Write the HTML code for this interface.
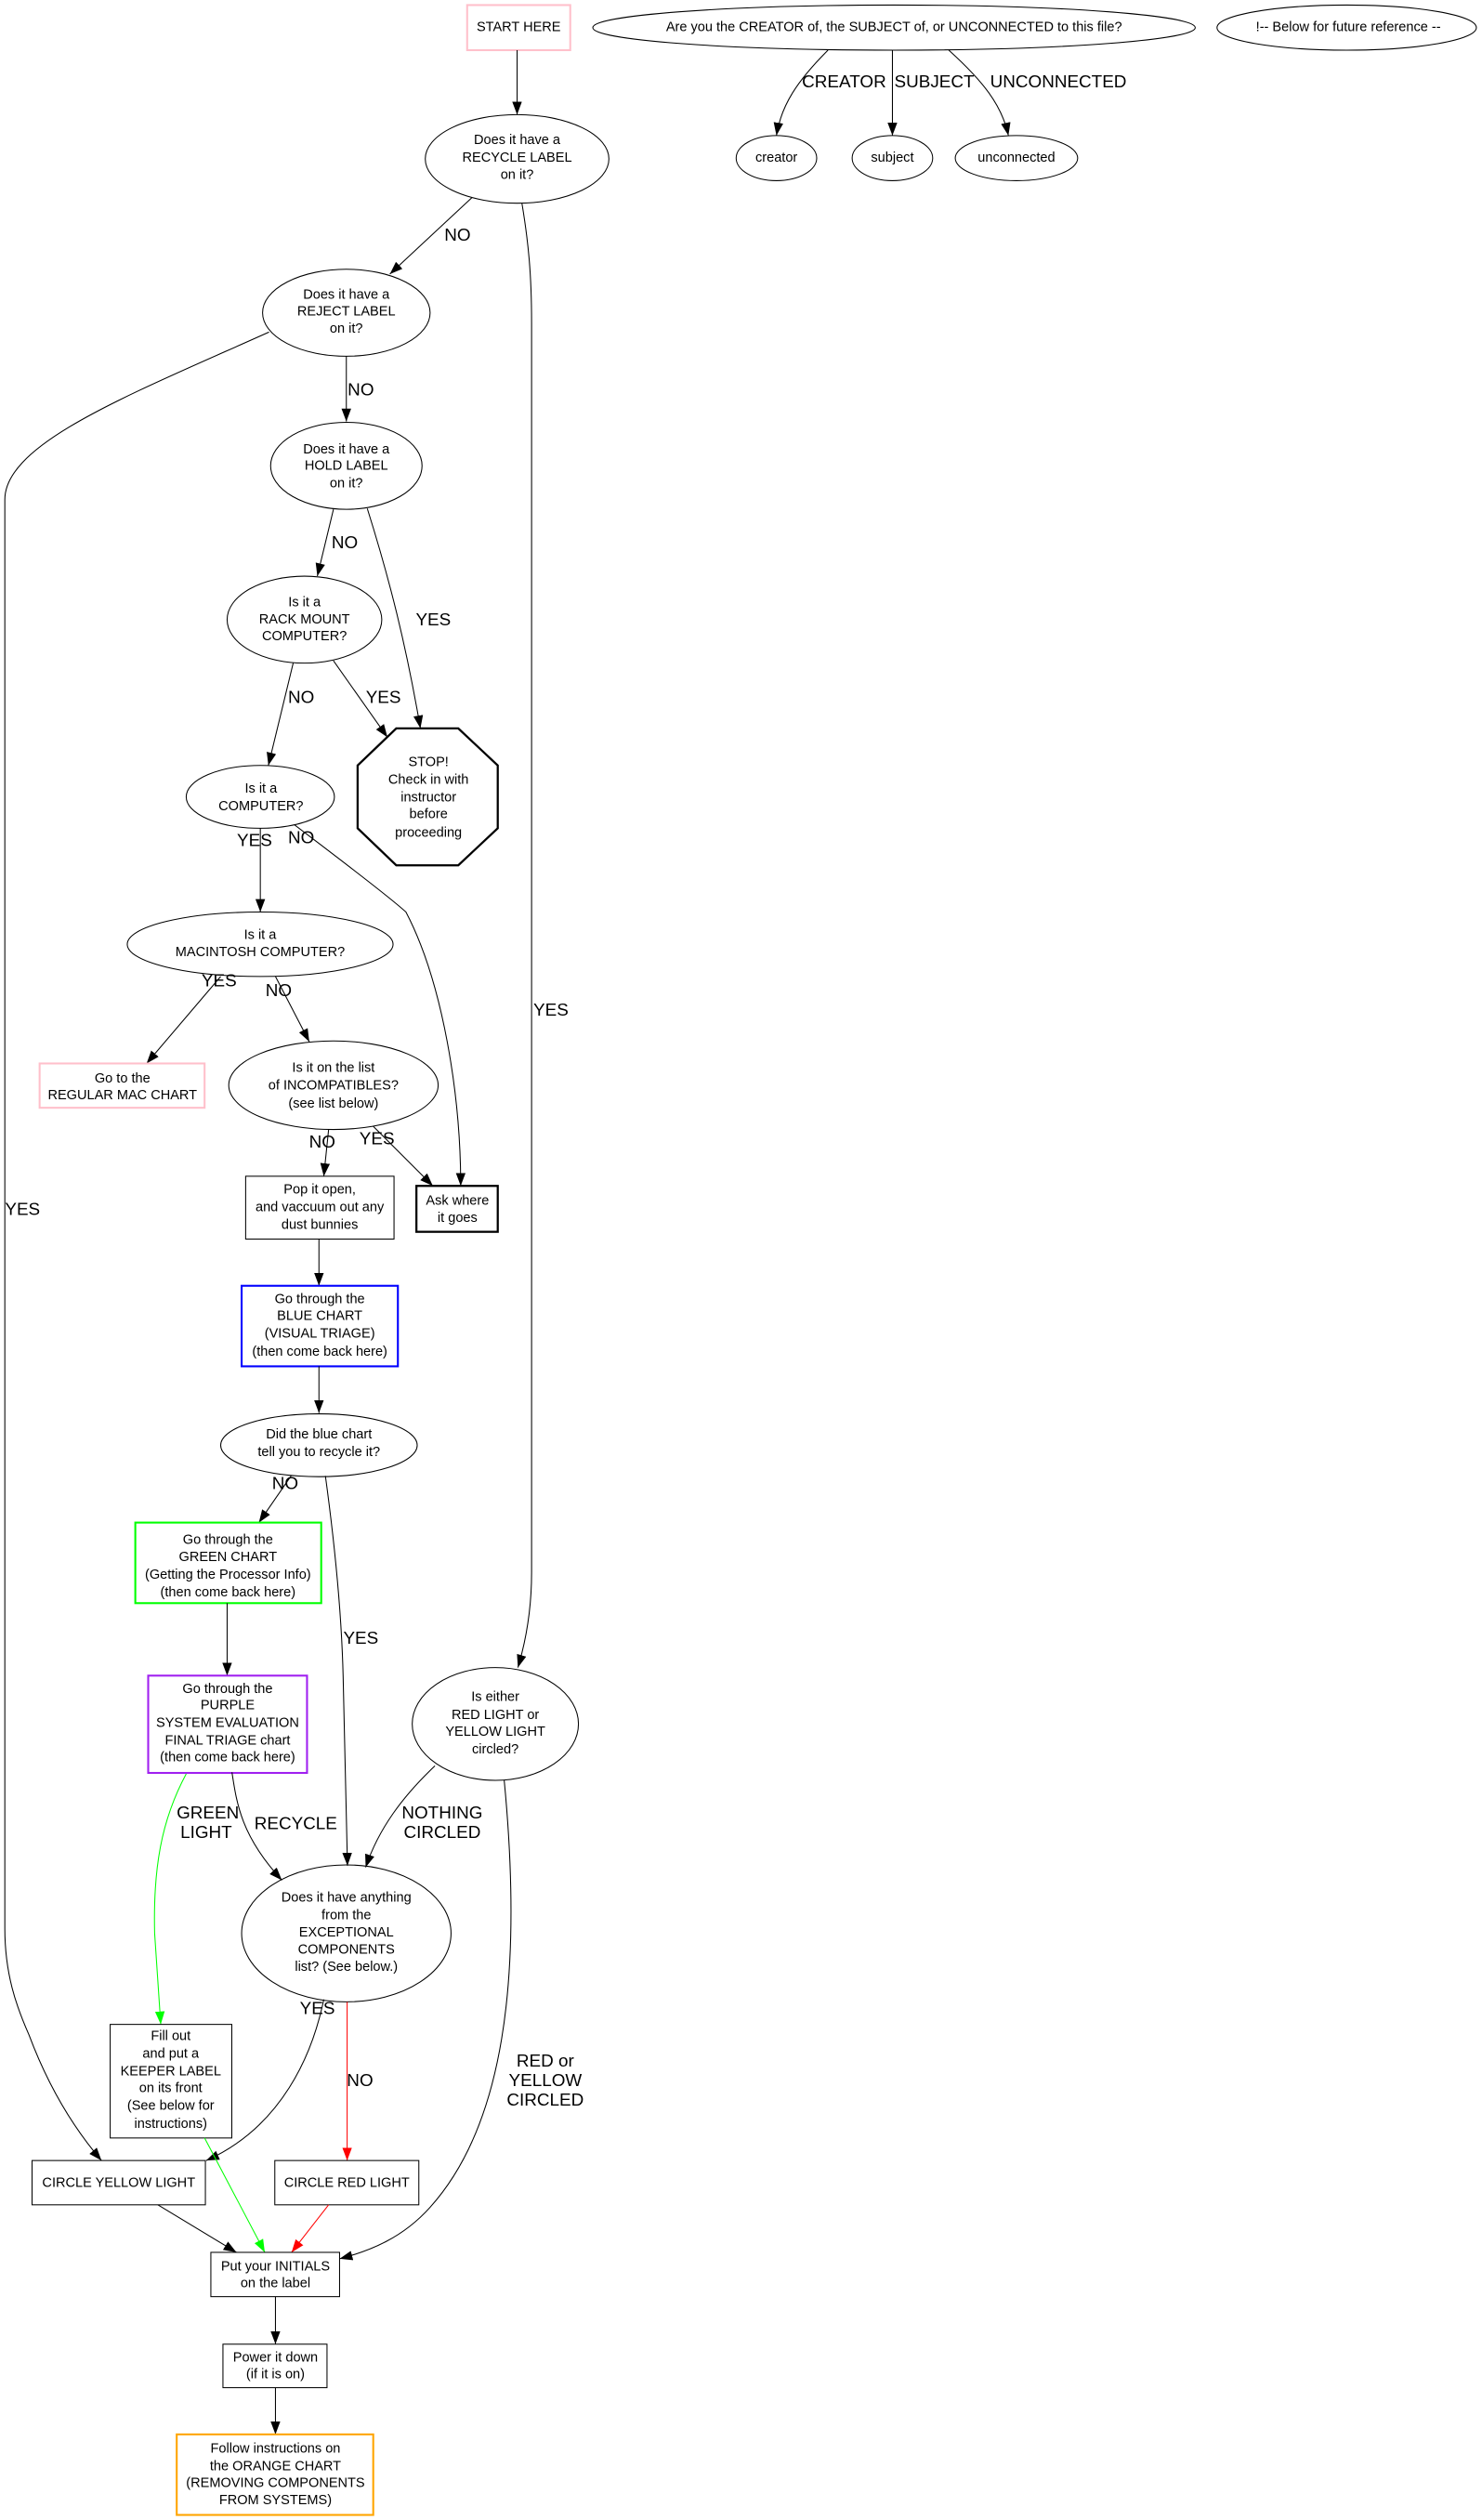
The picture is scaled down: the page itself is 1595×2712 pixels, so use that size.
<!DOCTYPE html>
<html><head><meta charset="utf-8"><style>
html,body{margin:0;padding:0;background:#fff}
svg{display:block}
text{font-family:"Liberation Sans",Arial,sans-serif;text-anchor:middle;dominant-baseline:central;fill:#000}
.n{font-size:8.4px}
.e{font-size:10.9px}
</style></head><body>
<svg width="1595" height="2712" viewBox="0 0 920 1564" xmlns="http://www.w3.org/2000/svg">
<defs>
<marker id="ak" markerUnits="userSpaceOnUse" markerWidth="10" markerHeight="8" refX="8" refY="3" orient="auto"><path d="M0,0 L8,3 L0,6 z" fill="#000"/></marker>
<marker id="ag" markerUnits="userSpaceOnUse" markerWidth="10" markerHeight="8" refX="8" refY="3" orient="auto"><path d="M0,0 L8,3 L0,6 z" fill="#00ff00"/></marker>
<marker id="ar" markerUnits="userSpaceOnUse" markerWidth="10" markerHeight="8" refX="8" refY="3" orient="auto"><path d="M0,0 L8,3 L0,6 z" fill="#ff0000"/></marker>
</defs>
<g fill="none" stroke="#000" stroke-width="0.6">
<rect x="290" y="3" width="64" height="28" stroke="#ffc0cb" stroke-width="1.2"/>
<ellipse cx="555" cy="17" rx="187" ry="14"/>
<ellipse cx="836" cy="17" rx="80.5" ry="14"/>
<ellipse cx="482" cy="98" rx="25" ry="14"/>
<ellipse cx="554" cy="98" rx="25" ry="14"/>
<ellipse cx="631" cy="98" rx="38" ry="14"/>
<path d="M514,31 C495,50 485,65 482,84" marker-end="url(#ak)"/>
<path d="M554,31 L554,84" marker-end="url(#ak)"/>
<path d="M589,31 C610,50 622,65 626,84" marker-end="url(#ak)"/>
<ellipse cx="321" cy="98.5" rx="57" ry="27.5"/>
<path d="M321,31 L321,71" marker-end="url(#ak)"/>
<ellipse cx="215" cy="194" rx="52" ry="27"/>
<path d="M293,122.5 L242,170" marker-end="url(#ak)"/>
<path d="M324,126 C328,150 330,170 330,200 L330,976 C330,1000 326,1020 321.5,1035" marker-end="url(#ak)"/>
<path d="M167,206 C80,245 3,275 3,310 L3,1197 C3,1225 10,1245 18,1263 C30,1295 45,1320 63,1341" marker-end="url(#ak)"/>
<ellipse cx="215" cy="289" rx="47" ry="27"/>
<path d="M215,221 L215,261.5" marker-end="url(#ak)"/>
<ellipse cx="189" cy="384.5" rx="48" ry="27"/>
<path d="M207,316 L197,357.5" marker-end="url(#ak)"/>
<path d="M228,315.5 C242,360 252,400 261,452" marker-end="url(#ak)"/>
<polygon points="246,452 284.5,452 309,475 309,514 284.5,537 246,537 222,514 222,475" stroke-width="1.3"/>
<path d="M182,411.5 L166.6,475" marker-end="url(#ak)"/>
<path d="M207,410 L240.5,457.5" marker-end="url(#ak)"/>
<ellipse cx="161.6" cy="494.5" rx="46" ry="19.5"/>
<path d="M161.6,514 L161.6,566" marker-end="url(#ak)"/>
<path d="M183,512 C200,525 240,555 252,566 C275,610 286,680 286,736" marker-end="url(#ak)"/>
<ellipse cx="161.5" cy="586" rx="82.5" ry="20"/>
<path d="M137,606 L91,660" marker-end="url(#ak)"/>
<path d="M171,606 L192,646.5" marker-end="url(#ak)"/>
<rect x="24.6" y="660" width="102.4" height="27.5" stroke="#ffc0cb" stroke-width="1.2"/>
<ellipse cx="207" cy="673.5" rx="65" ry="27.5"/>
<path d="M204,701 L201,730" marker-end="url(#ak)"/>
<path d="M231.7,699 L268.7,736" marker-end="url(#ak)"/>
<rect x="152.5" y="730" width="92.1" height="39"/>
<rect x="258.5" y="736" width="50.5" height="28.5" stroke-width="1.3"/>
<path d="M198,769 L198,798" marker-end="url(#ak)"/>
<rect x="150" y="798" width="97" height="50" stroke="#0000ff" stroke-width="1.2"/>
<path d="M198,848 L198,877" marker-end="url(#ak)"/>
<ellipse cx="198" cy="897" rx="61" ry="19.5"/>
<path d="M180.7,916 L160.7,945" marker-end="url(#ak)"/>
<path d="M202,916 C208,960 212,1000 213,1040 L215.7,1158" marker-end="url(#ak)"/>
<rect x="84" y="945" width="115.4" height="50" stroke="#00ff00" stroke-width="1.2"/>
<path d="M141,995 L141,1040" marker-end="url(#ak)"/>
<rect x="92" y="1040" width="98.6" height="60.4" stroke="#a020f0" stroke-width="1.2"/>
<ellipse cx="307.5" cy="1070" rx="51.6" ry="35"/>
<path d="M115.6,1101 C100,1130 95,1160 96,1200 L99.8,1256.5" stroke="#00ff00" marker-end="url(#ag)"/>
<path d="M144,1100 C147,1120 150,1140 175,1167" marker-end="url(#ak)"/>
<path d="M270,1096 C250,1115 235,1135 227,1159" marker-end="url(#ak)"/>
<path d="M313,1105 C325,1230 312,1320 267,1370 C250,1389 230,1397 210.8,1402" marker-end="url(#ak)"/>
<ellipse cx="215" cy="1200" rx="65" ry="42.5"/>
<path d="M201,1241 C194,1275 175,1320 128,1341" marker-end="url(#ak)"/>
<path d="M215.5,1242.6 L215.5,1341" stroke="#ff0000" marker-end="url(#ar)"/>
<rect x="68.4" y="1256.5" width="75.5" height="70.5"/>
<rect x="19.9" y="1341" width="107.6" height="27.5"/>
<rect x="170.6" y="1341" width="89.4" height="27.5"/>
<path d="M127,1327 L164.4,1398" stroke="#00ff00" marker-end="url(#ag)"/>
<path d="M98,1368.5 L146.8,1398" marker-end="url(#ak)"/>
<path d="M204,1368.5 L181,1398" stroke="#ff0000" marker-end="url(#ar)"/>
<rect x="130.9" y="1398" width="79.9" height="27.5"/>
<path d="M171,1425.5 L171,1455" marker-end="url(#ak)"/>
<rect x="138.4" y="1455" width="64.6" height="27"/>
<path d="M171,1482 L171,1511" marker-end="url(#ak)"/>
<rect x="109.7" y="1511" width="122" height="50" stroke="#ffa500" stroke-width="1.2"/>
</g>
<g class="n">
<text x="322" y="17">START HERE</text>
<text x="555" y="17">Are you the CREATOR of, the SUBJECT of, or UNCONNECTED to this file?</text>
<text x="837" y="17">!-- Below for future reference --</text>
<text x="482" y="98">creator</text>
<text x="554" y="98">subject</text>
<text x="631" y="98">unconnected</text>
<text x="321" y="87">Does it have a</text><text x="321" y="98">RECYCLE LABEL</text><text x="321" y="108.5">on it?</text>
<text x="215" y="183">Does it have a</text><text x="215" y="193.5">REJECT LABEL</text><text x="215" y="204">on it?</text>
<text x="215" y="279">Does it have a</text><text x="215" y="289">HOLD LABEL</text><text x="215" y="300">on it?</text>
<text x="189" y="374">Is it a</text><text x="189" y="384.5">RACK MOUNT</text><text x="189" y="395">COMPUTER?</text>
<text x="266" y="473">STOP!</text><text x="266" y="484">Check in with</text><text x="266" y="495">instructor</text><text x="266" y="505.5">before</text><text x="266" y="517">proceeding</text>
<text x="162" y="489.5">Is it a</text><text x="162" y="500.5">COMPUTER?</text>
<text x="161.5" y="580.5">Is it a</text><text x="161.5" y="591">MACINTOSH COMPUTER?</text>
<text x="76" y="669.5">Go to the</text><text x="76" y="680">REGULAR MAC CHART</text>
<text x="207" y="663">Is it on the list</text><text x="207" y="674">of INCOMPATIBLES?</text><text x="207" y="685">(see list below)</text>
<text x="198.5" y="738.5">Pop it open,</text><text x="198.5" y="749.5">and vaccuum out any</text><text x="198.5" y="760.5">dust bunnies</text>
<text x="284" y="745.5">Ask where</text><text x="284" y="756">it goes</text>
<text x="198.5" y="806.5">Go through the</text><text x="198.5" y="817">BLUE CHART</text><text x="198.5" y="828">(VISUAL TRIAGE)</text><text x="198.5" y="839">(then come back here)</text>
<text x="198" y="890.5">Did the blue chart</text><text x="198" y="901.5">tell you to recycle it?</text>
<text x="141.5" y="956">Go through the</text><text x="141.5" y="966.6">GREEN CHART</text><text x="141.5" y="977.5">(Getting the Processor Info)</text><text x="141.5" y="988.5">(then come back here)</text>
<text x="141.3" y="1048.4">Go through the</text><text x="141.3" y="1058.5">PURPLE</text><text x="141.3" y="1069.5">SYSTEM EVALUATION</text><text x="141.3" y="1080.6">FINAL TRIAGE chart</text><text x="141.3" y="1091">(then come back here)</text>
<text x="307.5" y="1053.4">Is either</text><text x="307.5" y="1064.5">RED LIGHT or</text><text x="307.5" y="1074.9">YELLOW LIGHT</text><text x="307.5" y="1086">circled?</text>
<text x="215" y="1178">Does it have anything</text><text x="215" y="1189">from the</text><text x="215" y="1199.7">EXCEPTIONAL</text><text x="215" y="1210.4">COMPONENTS</text><text x="215" y="1221">list? (See below.)</text>
<text x="106" y="1264">Fill out</text><text x="106" y="1275">and put a</text><text x="106" y="1285.8">KEEPER LABEL</text><text x="106" y="1296.3">on its front</text><text x="106" y="1307.3">(See below for</text><text x="106" y="1318.3">instructions)</text>
<text x="73.7" y="1355">CIRCLE YELLOW LIGHT</text>
<text x="215.3" y="1355">CIRCLE RED LIGHT</text>
<text x="171" y="1407">Put your INITIALS</text><text x="171" y="1417.5">on the label</text>
<text x="171" y="1463.5">Power it down</text><text x="171" y="1474">(if it is on)</text>
<text x="171" y="1520">Follow instructions on</text><text x="171" y="1531">the ORANGE CHART</text><text x="171" y="1541.5">(REMOVING COMPONENTS</text><text x="171" y="1552">FROM SYSTEMS)</text>
</g>
<g class="e">
<text x="524" y="51">CREATOR</text><text x="580" y="51">SUBJECT</text><text x="657" y="51">UNCONNECTED</text>
<text x="284" y="146">NO</text>
<text x="224" y="242">NO</text>
<text x="214" y="337">NO</text>
<text x="269" y="385">YES</text>
<text x="187" y="433">NO</text>
<text x="238" y="433">YES</text>
<text x="158" y="522">YES</text>
<text x="187" y="520">NO</text>
<text x="136" y="609">YES</text>
<text x="173" y="615">NO</text>
<text x="200" y="709">NO</text>
<text x="234" y="707">YES</text>
<text x="342" y="627">YES</text>
<text x="14" y="751">YES</text>
<text x="177" y="921">NO</text>
<text x="224" y="1017">YES</text>
<text x="129" y="1125.5">GREEN</text><text x="128" y="1137.6">LIGHT</text>
<text x="183.6" y="1132">RECYCLE</text>
<text x="274.5" y="1125.5">NOTHING</text><text x="274.5" y="1137.6">CIRCLED</text>
<text x="197" y="1247">YES</text>
<text x="223.5" y="1291.6">NO</text>
<text x="338.5" y="1279.5">RED or</text><text x="338.5" y="1291.6">YELLOW</text><text x="338.5" y="1303.6">CIRCLED</text>
</g>
</svg>
</body></html>
